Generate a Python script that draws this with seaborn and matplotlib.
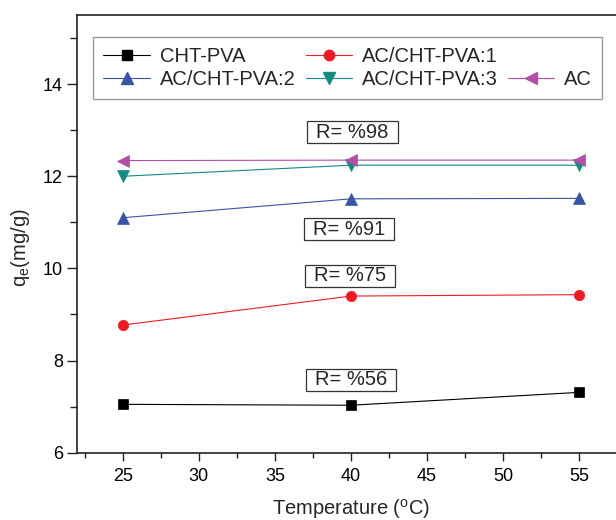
import numpy as np
import pandas as pd
import matplotlib
matplotlib.use("Agg")
import matplotlib.pyplot as plt
from matplotlib.lines import Line2D
from matplotlib.patches import Rectangle
from matplotlib.ticker import MultipleLocator
from matplotlib.transforms import IdentityTransform
import seaborn as sns

# Adsorption capacity versus temperature
temperature = [25, 40, 55]
series_names = ["CHT-PVA", "AC/CHT-PVA:1", "AC/CHT-PVA:2", "AC/CHT-PVA:3", "AC"]
qe_cht_pva = [7.05, 7.03, 7.31]
qe_ac_cht_pva_1 = [8.77, 9.40, 9.43]
qe_ac_cht_pva_2 = [11.10, 11.51, 11.52]
qe_ac_cht_pva_3 = [12.00, 12.24, 12.24]
qe_ac = [12.34, 12.35, 12.35]
removal_labels = ["R= %98", "R= %91", "R= %75", "R= %56"]

sns.set_style("ticks")
plt.rcParams["font.family"] = ["Liberation Sans", "DejaVu Sans"]
plt.rcParams["mathtext.default"] = "regular"

df = pd.DataFrame({
    "Temperature": temperature * 5,
    "qe": qe_cht_pva + qe_ac_cht_pva_1 + qe_ac_cht_pva_2 + qe_ac_cht_pva_3 + qe_ac,
    "Series": [n for n in series_names for _ in temperature],
})

colors = {
    "CHT-PVA": "#000000",
    "AC/CHT-PVA:1": "#ED1C24",
    "AC/CHT-PVA:2": "#3A53A4",
    "AC/CHT-PVA:3": "#138A82",
    "AC": "#B24FA6",
}
markers = {"CHT-PVA": "s", "AC/CHT-PVA:1": "o", "AC/CHT-PVA:2": "^",
           "AC/CHT-PVA:3": "v", "AC": "<"}
msizes = {"CHT-PVA": 6.5, "AC/CHT-PVA:1": 7.5, "AC/CHT-PVA:2": 8.5,
          "AC/CHT-PVA:3": 8.5, "AC": 9}

fig = plt.figure(figsize=(6.16, 5.20), dpi=100)
ax = fig.add_axes([77 / 616, 67.3 / 520, 548 / 616, 437.7 / 520])

sns.lineplot(data=df, x="Temperature", y="qe", hue="Series", style="Series",
             hue_order=series_names, style_order=series_names,
             palette=colors, markers=markers, dashes=False, linewidth=0.8,
             legend=False, ax=ax, zorder=3)

for line, name in zip(ax.lines, series_names):
    line.set_markersize(msizes[name])
    line.set_markeredgecolor(colors[name])
    line.set_markerfacecolor(colors[name])
    line.set_markeredgewidth(0.5)

ax.set_xlim(22, 58)
ax.set_ylim(6, 15.5)
ax.xaxis.set_major_locator(MultipleLocator(5))
ax.xaxis.set_minor_locator(MultipleLocator(2.5))
ax.yaxis.set_major_locator(MultipleLocator(2))
ax.yaxis.set_minor_locator(MultipleLocator(1))
ax.tick_params(which="major", direction="out", width=1.0,
               labelsize=13, colors="#222222", labelcolor="black", pad=3)
ax.tick_params(which="minor", direction="out", length=3.5, width=1.0,
               colors="#222222")
ax.tick_params(axis="x", which="major", length=6, pad=5)
ax.tick_params(axis="y", which="major", length=7)
ax.tick_params(axis="y", which="minor", length=5)
for side in ["left", "bottom", "top", "right"]:
    ax.spines[side].set_linewidth(1.2)
    ax.spines[side].set_color("#222222")

ax.set_xlabel("Temperature ($^{o}$C)", fontsize=14.5, labelpad=8.5)
ax.set_ylabel("q$_{e}$(mg/g)", fontsize=14.5)
ax.yaxis.set_label_coords(-0.083, 0.468)

# legend laid out in three columns, first row holding two entries
handles = {
    name: Line2D([], [], color=colors[name], marker=markers[name],
                 markersize=msizes[name], markerfacecolor=colors[name],
                 markeredgecolor=colors[name], linewidth=0.8)
    for name in series_names
}
blank = Line2D([], [], linestyle="none", marker=None)
order = [handles["CHT-PVA"], handles["AC/CHT-PVA:2"],
         handles["AC/CHT-PVA:1"], handles["AC/CHT-PVA:3"],
         blank, handles["AC"]]
labels = ["CHT-PVA", "AC/CHT-PVA:2", "AC/CHT-PVA:1", "AC/CHT-PVA:3", "", "AC"]
leg = ax.legend(order, labels, ncol=3, loc="upper left",
                bbox_to_anchor=(93.3 / 616, 1 - 37.3 / 520),
                bbox_transform=fig.transFigure, borderaxespad=0,
                fontsize=14.5, frameon=True, fancybox=False,
                handlelength=2.3, handletextpad=0.5, columnspacing=0.5,
                labelspacing=0.2, borderpad=0.5)
leg.get_frame().set_edgecolor("#808080")
leg.get_frame().set_linewidth(1.0)

# removal-efficiency labels in framed boxes
label_pos = [(40.1, 12.96), (39.85, 10.85), (39.95, 9.84), (40.0, 7.58)]
texts = []
for txt, (x, y) in zip(removal_labels, label_pos):
    t = ax.text(x, y, txt, fontsize=14.5, ha="center", va="center", zorder=5)
    texts.append(t)

fig.canvas.draw()
renderer = fig.canvas.get_renderer()
for t in texts:
    bb = t.get_window_extent(renderer)
    padx, pady = 9.0, 1.5
    rect = Rectangle((bb.x0 - padx, bb.y0 - pady), bb.width + 2 * padx,
                     bb.height + 2 * pady, transform=IdentityTransform(),
                     facecolor="white", edgecolor="#333333", linewidth=0.9,
                     zorder=4)
    fig.add_artist(rect)
    t.remove()
    t.set_zorder(6)
    fig.add_artist(t)

fig.savefig("out.png", dpi=100)
